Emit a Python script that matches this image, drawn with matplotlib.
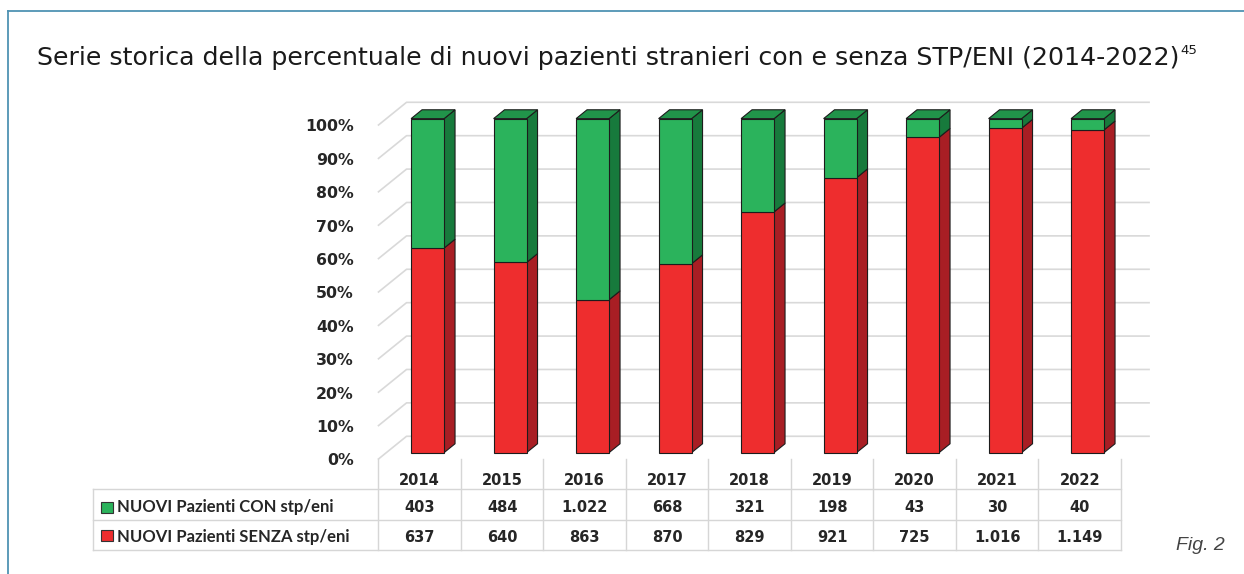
import numpy as np
import matplotlib.pyplot as plt
from matplotlib.patches import Polygon, Rectangle
from matplotlib.lines import Line2D

# dati ---------------------------------------------------------------------
anni = ['2014', '2015', '2016', '2017', '2018', '2019', '2020', '2021', '2022']
con_stp = [403, 484, 1022, 668, 321, 198, 43, 30, 40]
senza_stp = [637, 640, 863, 870, 829, 921, 725, 1016, 1149]
label_con = "NUOVI Pazienti CON stp/eni"
label_senza = "NUOVI Pazienti SENZA stp/eni"
titolo = "Serie storica della percentuale di nuovi pazienti stranieri con e senza STP/ENI (2014-2022)"
nota = "45"
y_ticks = list(range(0, 101, 10))

plt.rcParams['font.family'] = ['DejaVu Sans']

# colori:
green_front, green_side, green_top = '#2bb35c', '#177a3c', '#21944a'
red_front, red_side, red_top = '#ee2d2e', '#a81e24', '#c8232a'
edge = '#1c1c1c'
grid_col = '#d9d9d9'
table_col = '#d6d6d6'
frame_col = '#4f93b3'
txt_col = '#262626'

con = np.array(con_stp)
senza = np.array(senza_stp)
tot = con + senza
perc_senza = 100 * senza / tot
perc_con = 100 * con / tot
x = np.arange(len(anni))

W, H = 1244, 574
fig = plt.figure(figsize=(W / 100, H / 100), dpi=100)
ax = fig.add_axes([0.05888, 0.03746, 0.8754, 0.8146])
ax.set_xlim(-4.2, 9.0)
ax.set_ylim(-28, 112)
ax.axis('off')

# profondita' 3D
DX, DY = 0.34, 6.8
d0, d1 = 0.28, 0.67
w = 0.4

# griglia e parete sinistra
for k in y_ticks:
    ax.plot([-0.5, -0.5 + DX, 8.5 + DX], [k, k + DY, k + DY],
            color=grid_col, lw=1.2, zorder=0)
    ax.text(-0.8, k - 0.6, f"{k}%", ha='right', va='center',
            fontweight='bold', fontsize=11.3, color=txt_col)

# barre
ox, oy = d0 * DX, d0 * DY
ddx, ddy = (d1 - d0) * DX, (d1 - d0) * DY
ax.bar(x + ox, perc_senza, width=w, bottom=oy, color=red_front,
       edgecolor=edge, lw=0.8, zorder=3)
ax.bar(x + ox, perc_con, width=w, bottom=oy + perc_senza, color=green_front,
       edgecolor=edge, lw=0.8, zorder=3)


def facce(L, R, B, T, c_side, c_top, top):
    side = [(R, B), (R + ddx, B + ddy), (R + ddx, T + ddy), (R, T)]
    ax.add_patch(Polygon(side, closed=True, facecolor=c_side,
                         edgecolor=edge, lw=0.8, zorder=2))
    if top:
        tp = [(L, T), (L + ddx, T + ddy), (R + ddx, T + ddy), (R, T)]
        ax.add_patch(Polygon(tp, closed=True, facecolor=c_top,
                             edgecolor=edge, lw=0.8, zorder=2))


for i in range(len(anni)):
    L, R = x[i] + ox - w / 2, x[i] + ox + w / 2
    facce(L, R, oy, oy + perc_senza[i], red_side, red_top, False)
    facce(L, R, oy + perc_senza[i], oy + 100, green_side, green_top, True)

# tabella dati -------------------------------------------------------------
y_head, y_r1, y_r2 = -6.3, -14.4, -23.4
y_l1, y_l2, y_l3 = -9.0, -18.3, -27.2
x_left = -3.96
for yl in (y_l1, y_l2, y_l3):
    ax.plot([x_left, 8.5], [yl, yl], color=table_col, lw=1, zorder=1)
for xv in np.arange(-0.5, 9.0, 1.0):
    ax.plot([xv, xv], [0, y_l3], color=table_col, lw=1, zorder=1)
ax.plot([x_left, x_left], [y_l1, y_l3], color=table_col, lw=1, zorder=1)

fmt = lambda v: f"{v:,}".replace(",", ".")
for i in range(len(anni)):
    ax.text(x[i], y_head, anni[i], ha='center', va='center',
            fontweight='bold', fontsize=10.5, color=txt_col)
    ax.text(x[i], y_r1, fmt(con_stp[i]), ha='center', va='center',
            fontweight='bold', fontsize=10.5, color=txt_col)
    ax.text(x[i], y_r2, fmt(senza_stp[i]), ha='center', va='center',
            fontweight='bold', fontsize=10.5, color=txt_col)

sq_w, sq_h = 0.14, 3.3
ax.add_patch(Rectangle((-3.86, y_r1 - 0.2 - sq_h / 2), sq_w, sq_h,
                       facecolor=green_front, edgecolor='#333333', lw=0.8))
ax.add_patch(Rectangle((-3.86, y_r2 + 0.4 - sq_h / 2), sq_w, sq_h,
                       facecolor=red_front, edgecolor='#333333', lw=0.8))
ax.text(-3.67, y_r1, label_con, ha='left', va='center', family='Lato',
        fontweight='bold', fontsize=12, color=txt_col)
ax.text(-3.67, y_r2, label_senza, ha='left', va='center', family='Lato',
        fontweight='bold', fontsize=12, color=txt_col)

# titolo, cornice, didascalia ----------------------------------------------
t = fig.text(37 / W, 1 - 65 / H, titolo, fontsize=18.2, va='baseline',
             ha='left', color='#1a1a1a')
fig.canvas.draw()
bb = t.get_window_extent()
fig.text((bb.x1 + 1) / W, 1 - 50 / H, nota, fontsize=9.5, va='center',
         ha='left', color='#1a1a1a')
fig.text(1176 / W, 1 - 545 / H, "Fig. 2", fontsize=14, style='italic',
         family='Liberation Sans', va='center', ha='left', color='#444444')

fig.add_artist(Line2D([8 / W, 8 / W], [0, 1 - 11 / H], color=frame_col,
                      lw=1.3, transform=fig.transFigure))
fig.add_artist(Line2D([8 / W, 1], [1 - 11 / H, 1 - 11 / H], color=frame_col,
                      lw=1.3, transform=fig.transFigure))

fig.savefig('out.png', dpi=100)
